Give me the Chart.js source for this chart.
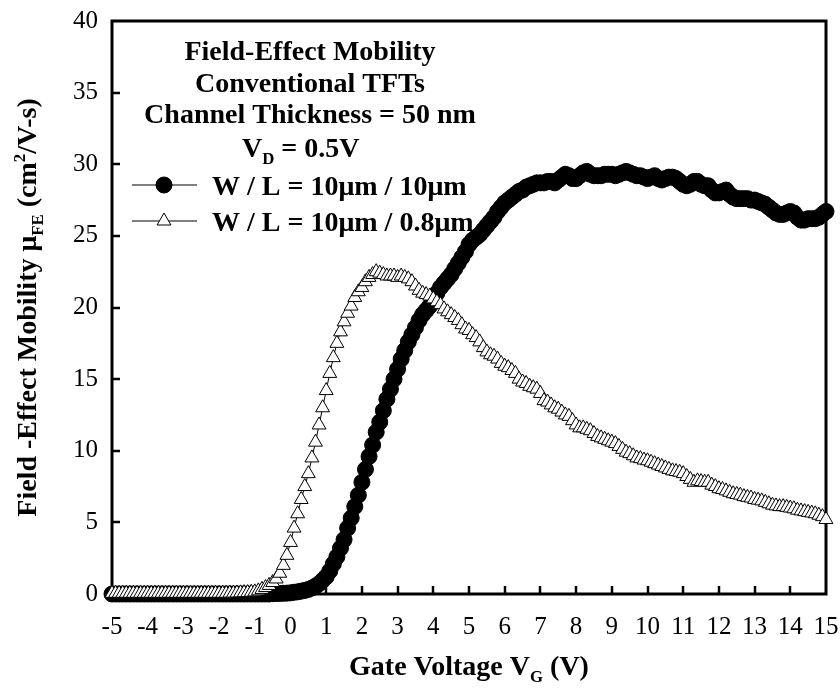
<!DOCTYPE html>
<html lang="en">
<head>
    <meta charset="UTF-8">
    <title>Field-Effect Mobility</title>
    <script src="https://cdn.jsdelivr.net/npm/chart.js"></script>
    <style>
        html, body { margin: 0; padding: 0; background: #ffffff; }
        #wrap { width: 840px; height: 694px; }
    </style>
</head>
<body>
    <div id="wrap">
        <canvas id="mobilityChart" width="840" height="694"></canvas>
    </div>

    <script>
        // Gate sweep: -5 V to 15 V in 0.1 V steps (one row of ten values per volt)
        const VG_START = -5;
        const VG_STEP = 0.1;

        // W / L = 10um / 10um (filled circles)
        const muLongChannel = [
            0, 0, 0, 0, 0, 0, 0, 0, 0, 0,
            0, 0, 0, 0, 0, 0, 0, 0, 0, 0,
            0, 0, 0, 0, 0, 0, 0, 0, 0, 0,
            0, 0, 0, 0, 0, 0, 0, 0, 0, 0,
            0, 0, 0, 0, 0, 0.02, 0.03, 0.04, 0.05, 0.06,
            0.08, 0.12, 0.15, 0.2, 0.25, 0.32, 0.42, 0.55, 0.72, 0.95,
            1.2, 1.6, 2.1, 2.6, 3.2, 3.8, 4.6, 5.3, 6.1, 6.9,
            7.8, 8.7, 9.6, 10.4, 11.3, 12.0, 12.8, 13.6, 14.3, 15.0,
            15.7, 16.4, 17.0, 17.6, 18.1, 18.6, 19.1, 19.5, 19.8, 20.1,
            20.5, 21.0, 21.4, 21.7, 22.0, 22.3, 22.7, 23.1, 23.5, 23.9,
            24.4, 24.7, 24.9, 25.1, 25.4, 25.7, 26.0, 26.3, 26.7, 27.0,
            27.3, 27.5, 27.7, 27.9, 28.1, 28.2, 28.4, 28.5, 28.6, 28.7,
            28.7, 28.7, 28.8, 28.8, 28.7, 28.9, 29.1, 29.3, 29.2, 29.0,
            29.0, 29.2, 29.4, 29.5, 29.3, 29.2, 29.2, 29.2, 29.3, 29.3,
            29.3, 29.2, 29.3, 29.4, 29.5, 29.4, 29.3, 29.2, 29.2, 29.1,
            29.0, 29.1, 29.2, 29.0, 28.9, 29.0, 29.1, 29.1, 29.0, 28.8,
            28.6, 28.5, 28.6, 28.8, 28.8, 28.6, 28.5, 28.5, 28.2, 28.0,
            28.0, 28.1, 28.2, 27.9, 27.7, 27.6, 27.6, 27.6, 27.6, 27.5,
            27.5, 27.4, 27.3, 27.2, 27.0, 26.8, 26.6, 26.5, 26.5, 26.6,
            26.7, 26.6, 26.3, 26.1, 26.1, 26.2, 26.2, 26.2, 26.3, 26.5,
            26.7
        ];

        // W / L = 10um / 0.8um (open triangles)
        const muShortChannel = [
            0.05, 0.05, 0.05, 0.05, 0.05, 0.05, 0.05, 0.05, 0.05, 0.05,
            0.05, 0.05, 0.05, 0.05, 0.05, 0.05, 0.05, 0.05, 0.05, 0.05,
            0.05, 0.05, 0.05, 0.05, 0.05, 0.05, 0.05, 0.05, 0.05, 0.05,
            0.05, 0.05, 0.05, 0.06, 0.06, 0.07, 0.08, 0.09, 0.1, 0.12,
            0.15, 0.22, 0.32, 0.45, 0.6, 0.8, 1.05, 1.45, 2.0, 2.7,
            3.6, 4.6, 5.6, 6.6, 7.5, 8.4, 9.5, 10.6, 11.8, 13.0,
            14.2, 15.4, 16.5, 17.5, 18.3, 19.0, 19.6, 20.1, 20.7, 21.1,
            21.4, 21.8, 22.1, 22.3, 22.5, 22.4, 22.3, 22.2, 22.2, 22.2,
            22.1, 22.2, 22.1, 22.0, 21.8, 21.5, 21.2, 21.0, 20.9, 20.8,
            20.6, 20.4, 20.2, 19.9, 19.7, 19.5, 19.3, 19.1, 18.8, 18.5,
            18.4, 18.1, 17.9, 17.6, 17.2, 16.9, 16.7, 16.6, 16.4, 16.1,
            15.9, 15.8, 15.6, 15.4, 15.0, 14.8, 14.7, 14.5, 14.4, 14.3,
            14.0, 13.5, 13.4, 13.2, 13.0, 12.9, 12.7, 12.5, 12.4, 12.1,
            11.8, 11.6, 11.6, 11.5, 11.4, 11.2, 11.0, 10.9, 10.8, 10.7,
            10.6, 10.5, 10.3, 10.1, 9.9, 9.8, 9.65, 9.5, 9.45, 9.35,
            9.3, 9.2, 9.1, 9.0, 8.9, 8.8, 8.7, 8.6, 8.55, 8.5,
            8.4, 8.2, 8.0, 7.8, 7.9, 7.85, 7.8, 7.8, 7.6, 7.5,
            7.35, 7.3, 7.2, 7.1, 7.0, 6.95, 6.9, 6.8, 6.75, 6.7,
            6.6, 6.55, 6.5, 6.4, 6.3, 6.2, 6.15, 6.1, 6.1, 6.05,
            6.0, 5.95, 5.85, 5.8, 5.75, 5.7, 5.65, 5.6, 5.5, 5.4,
            5.2
        ];

        const seriesLabels = ['W / L = 10\u03BCm / 10\u03BCm', 'W / L = 10\u03BCm / 0.8\u03BCm'];
        const noteLines = ['Field-Effect Mobility', 'Conventional TFTs', 'Channel Thickness = 50 nm'];

        const X_MIN = -5, X_MAX = 15, X_STEP = 1;
        const Y_MIN = 0, Y_MAX = 40, Y_STEP = 5;

        const SERIF = '"Liberation Serif", "Times New Roman", serif';

        function toPoints(values) {
            return values.map((mu, i) => ({ x: +(VG_START + i * VG_STEP).toFixed(1), y: mu }));
        }

        // text runs with sub/superscript pieces
        function runWidth(ctx, parts, size) {
            let w = 0;
            parts.forEach(p => {
                ctx.font = 'bold ' + (p.s ? size * 0.6 : size) + 'px ' + SERIF;
                w += ctx.measureText(p.t).width;
            });
            return w;
        }
        function drawRun(ctx, parts, x, y, size) {
            ctx.textAlign = 'left';
            ctx.textBaseline = 'alphabetic';
            parts.forEach(p => {
                const sz = p.s ? size * 0.6 : size;
                ctx.font = 'bold ' + sz + 'px ' + SERIF;
                let dy = 0;
                if (p.s === 'sub') dy = size * 0.25;
                if (p.s === 'sup') dy = -size * 0.38;
                ctx.fillText(p.t, x, y + dy);
                x += ctx.measureText(p.t).width;
            });
        }

        function marker(ctx, style, x, y) {
            ctx.save();
            ctx.lineWidth = 1;
            ctx.strokeStyle = '#000';
            ctx.beginPath();
            if (style === 'circle') {
                ctx.fillStyle = '#000';
                ctx.arc(x, y, 8, 0, Math.PI * 2);
            } else {
                const r = 8;
                ctx.fillStyle = '#fff';
                ctx.moveTo(x, y - r);
                ctx.lineTo(x + r * 0.866, y + r * 0.5);
                ctx.lineTo(x - r * 0.866, y + r * 0.5);
                ctx.closePath();
            }
            ctx.fill();
            ctx.stroke();
            ctx.restore();
        }

        const paperStyle = {
            id: 'paperStyle',
            beforeDatasetsDraw(chart) {
                const { ctx, chartArea: a, scales: { x, y } } = chart;
                ctx.save();
                ctx.strokeStyle = '#000';
                ctx.lineWidth = 2.5;
                ctx.lineCap = 'butt';
                // tick marks point into the plot
                ctx.beginPath();
                for (let v = X_MIN + X_STEP; v < X_MAX; v += X_STEP) {
                    const px = Math.round(x.getPixelForValue(v));
                    ctx.moveTo(px, a.bottom);
                    ctx.lineTo(px, a.bottom - 8);
                }
                for (let v = Y_MIN + Y_STEP; v < Y_MAX; v += Y_STEP) {
                    const py = Math.round(y.getPixelForValue(v));
                    ctx.moveTo(a.left, py);
                    ctx.lineTo(a.left + 8, py);
                }
                ctx.stroke();
                ctx.lineWidth = 3;
                ctx.strokeRect(a.left, a.top, a.right - a.left, a.bottom - a.top);
                ctx.restore();
            },
            afterDraw(chart) {
                const { ctx, chartArea: a } = chart;
                ctx.save();
                ctx.fillStyle = '#000';

                // note block
                ctx.font = 'bold 28px ' + SERIF;
                ctx.textAlign = 'center';
                ctx.textBaseline = 'alphabetic';
                ctx.fillText(noteLines[0], 310, 60);
                ctx.fillText(noteLines[1], 310, 92);
                ctx.fillText(noteLines[2], 310, 123);
                drawRun(ctx, [{ t: 'V' }, { t: 'D', s: 'sub' }, { t: ' = 0.5V' }], 242, 157, 28);

                // legend
                const rows = [{ y: 185, style: 'circle' }, { y: 221, style: 'triangle' }];
                rows.forEach((r, i) => {
                    ctx.strokeStyle = '#000';
                    ctx.lineWidth = 1;
                    ctx.beginPath();
                    ctx.moveTo(132, r.y);
                    ctx.lineTo(197, r.y);
                    ctx.stroke();
                    marker(ctx, r.style, 164, r.y);
                    ctx.fillStyle = '#000';
                    ctx.font = 'bold 28px ' + SERIF;
                    ctx.textAlign = 'left';
                    ctx.fillText(seriesLabels[i], 212, r.y + 10);
                });

                // x axis title
                const xt = [{ t: 'Gate Voltage V' }, { t: 'G', s: 'sub' }, { t: ' (V)' }];
                const xw = runWidth(ctx, xt, 28);
                drawRun(ctx, xt, (a.left + a.right) / 2 - xw / 2, 675, 28);

                // y axis title, rotated
                const yt = [{ t: 'Field -Effect Mobility \u03BC' }, { t: 'FE', s: 'sub' },
                            { t: ' (cm' }, { t: '2', s: 'sup' }, { t: '/V-s)' }];
                const yw = runWidth(ctx, yt, 28);
                ctx.translate(36, (a.top + a.bottom) / 2);
                ctx.rotate(-Math.PI / 2);
                drawRun(ctx, yt, -yw / 2, 0, 28);
                ctx.restore();
            }
        };

        const chart = new Chart(document.getElementById('mobilityChart').getContext('2d'), {
            type: 'line',
            data: {
                datasets: [
                    {
                        label: seriesLabels[0],
                        data: toPoints(muLongChannel),
                        borderColor: '#000',
                        borderWidth: 1,
                        pointStyle: 'circle',
                        pointRadius: 8,
                        pointBackgroundColor: '#000',
                        pointBorderColor: '#000',
                        pointBorderWidth: 1,
                        clip: false,
                        order: 1
                    },
                    {
                        label: seriesLabels[1],
                        data: toPoints(muShortChannel),
                        borderColor: '#000',
                        borderWidth: 1,
                        pointStyle: 'triangle',
                        pointRadius: 8,
                        pointBackgroundColor: '#fff',
                        pointBorderColor: '#000',
                        pointBorderWidth: 1,
                        clip: false,
                        order: 0
                    }
                ]
            },
            options: {
                responsive: false,
                animation: false,
                devicePixelRatio: 1,
                layout: { padding: { left: 0, top: 21, right: 14, bottom: 0 } },
                plugins: {
                    legend: { display: false },
                    tooltip: { enabled: false }
                },
                scales: {
                    x: {
                        type: 'linear',
                        min: X_MIN,
                        max: X_MAX,
                        grid: { display: false, drawTicks: false },
                        border: { display: false },
                        ticks: {
                            stepSize: X_STEP,
                            maxRotation: 0,
                            autoSkip: false,
                            padding: 18,
                            color: '#000',
                            font: { family: SERIF, size: 25 }
                        },
                        afterFit: s => { s.height = 100; s.paddingLeft = 0; s.paddingRight = 0; }
                    },
                    y: {
                        min: Y_MIN,
                        max: Y_MAX,
                        grid: { display: false, drawTicks: false },
                        border: { display: false },
                        ticks: {
                            stepSize: Y_STEP,
                            padding: 14,
                            color: '#000',
                            font: { family: SERIF, size: 25 }
                        },
                        afterFit: s => { s.width = 112; s.paddingTop = 0; s.paddingBottom = 0; }
                    }
                }
            },
            plugins: [paperStyle]
        });
    </script>
</body>
</html>
